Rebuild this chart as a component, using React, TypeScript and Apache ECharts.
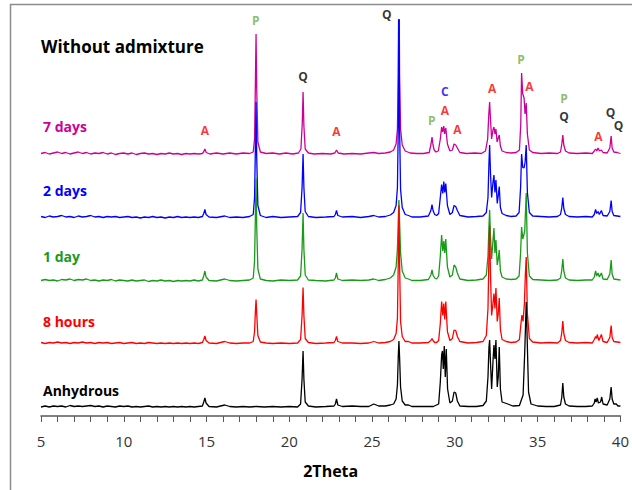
import React, { useEffect, useRef } from "react";
import * as echarts from "echarts";

// Series (top to bottom in the stack)
const seriesNames = ["7 days", "2 days", "1 day", "8 hours", "Anhydrous"];
const seriesColors = ["#cc0099", "#0000ff", "#1a9a1a", "#ff0000", "#000000"];
const baselineOffsets = [262, 198.5, 135, 72.5, 9];

// Intensities (arbitrary units, above each trace's own baseline), [2Theta, I]
const days7: number[][] = [
  [5, 0.5], [5.25, 1.5], [5.5, 0], [5.75, 1], [6, 2], [6.25, 0.5], [6.5, 1.5], [6.75, 0], [7, 1], [7.25, 2],
  [7.5, 0.5], [7.75, 1.5], [8, 0], [8.25, 1], [8.5, 0.5], [8.75, 1.5], [9, 0], [9.25, 1], [9.5, -0.5], [9.75, 0.5],
  [10, 1], [10.25, 0], [10.5, 1], [10.75, -0.5], [11, 0.5], [11.25, 1], [11.5, 0], [11.75, 0.5], [12, -0.5], [12.25, 0.5],
  [12.5, 0], [12.75, 1], [13, 0], [13.25, 0.5], [13.5, -0.5], [13.75, 0.5], [14, 0], [14.25, 0.5], [14.5, 0], [14.75, 0.5],
  [14.82, 2], [14.9, 5], [14.98, 1.5], [15.2, 0], [15.6, 1], [16, 0], [16.4, 1], [16.8, 0], [17.2, 1], [17.6, 0.5],
  [17.82, 2], [17.9, 15], [17.95, 70], [17.99, 120], [18.03, 65], [18.1, 12], [18.25, 2], [18.6, 0.5], [19, 1], [19.4, 0],
  [19.8, 1], [20.2, 0], [20.55, 1], [20.7, 5], [20.78, 30], [20.83, 62], [20.88, 28], [20.96, 5], [21.15, 1], [21.5, 0],
  [22, 0.5], [22.5, 0], [22.75, 1], [22.85, 4], [22.95, 1], [23.3, 0], [23.8, 0.5], [24.3, 0], [24.8, 1], [25.1, 1.5],
  [25.4, 0.5], [25.8, 1], [26.1, 2], [26.3, 4], [26.45, 10], [26.53, 25], [26.58, 80], [26.62, 200], [26.66, 80], [26.72, 25],
  [26.82, 9], [27, 3], [27.3, 1], [27.7, 0.5], [28.1, 0.5], [28.45, 1.5], [28.56, 10], [28.62, 17], [28.68, 9], [28.75, 4],
  [28.85, 2], [29, 3], [29.12, 15], [29.2, 27], [29.26, 22], [29.33, 28], [29.38, 20], [29.45, 26], [29.55, 10], [29.7, 3],
  [29.85, 4], [29.95, 10], [30.05, 9], [30.15, 6], [30.3, 1.5], [30.7, 0.5], [31.2, 1], [31.6, 0.5], [31.85, 3], [31.98, 15],
  [32.05, 40], [32.1, 52], [32.15, 35], [32.22, 15], [32.3, 24], [32.36, 27], [32.42, 20], [32.48, 25], [32.55, 12], [32.62, 16],
  [32.68, 19], [32.75, 8], [32.85, 3], [33.1, 1.5], [33.4, 1], [33.7, 1.5], [33.9, 4], [33.98, 30], [34.03, 81], [34.1, 60],
  [34.18, 56], [34.24, 40], [34.31, 51], [34.38, 20], [34.5, 4], [34.7, 1.5], [35.2, 0.5], [35.7, 1], [36.2, 0.5], [36.38, 2],
  [36.46, 10], [36.52, 19], [36.58, 9], [36.68, 3], [36.9, 1], [37.4, 0.5], [37.9, 1], [38.3, 0.5], [38.42, 3], [38.5, 5],
  [38.57, 3], [38.65, 6], [38.73, 3], [38.85, 4], [38.95, 1.5], [39.2, 1], [39.36, 6], [39.44, 18], [39.5, 6], [39.6, 2],
  [39.8, 1.5], [40, 0.5],
];

const days2: number[][] = [
  [5, 1], [5.25, 0], [5.5, 1.5], [5.75, 0.5], [6, 1], [6.25, 2], [6.5, 0.5], [6.75, 1], [7, 0], [7.25, 1.5],
  [7.5, 0.5], [7.75, 1], [8, 2], [8.25, 0.5], [8.5, 1], [8.75, 0], [9, 1], [9.25, 0.5], [9.5, 1], [9.75, 0],
  [10, 0.5], [10.25, 1], [10.5, 0], [10.75, 0.5], [11, -0.5], [11.25, 0.5], [11.5, 0], [11.75, 1], [12, 0], [12.25, 0.5],
  [12.5, -0.5], [12.75, 0.5], [13, 0], [13.25, 1], [13.5, 0], [13.75, 0.5], [14, 0], [14.25, 0.5], [14.5, 0], [14.75, 1],
  [14.83, 4], [14.9, 8], [14.97, 3], [15.15, 0.5], [15.6, 0], [16.1, 1.5], [16.4, 0], [16.8, 0.5], [17.2, 0], [17.6, 1],
  [17.82, 3], [17.9, 20], [17.95, 70], [17.99, 115.5], [18.03, 60], [18.1, 12], [18.25, 2], [18.6, 0], [19, 1], [19.5, 0],
  [20, 0.5], [20.5, 1], [20.68, 5], [20.77, 30], [20.83, 63.5], [20.88, 30], [20.96, 6], [21.15, 1], [21.6, 0], [22.2, 0.5],
  [22.7, 1], [22.78, 3], [22.85, 7], [22.93, 2], [23.2, 0.5], [23.8, 1], [24.3, 0], [24.8, 1], [25.1, 2], [25.4, 0.5],
  [25.8, 1], [26.1, 2.5], [26.3, 5], [26.45, 12], [26.53, 30], [26.58, 90], [26.62, 250], [26.66, 90], [26.72, 28], [26.82, 10],
  [27, 3], [27.2, 2], [27.4, 0.5], [27.9, 0.5], [28.4, 1.5], [28.55, 7], [28.62, 13], [28.68, 7], [28.78, 3], [28.9, 2],
  [29.02, 4], [29.12, 20], [29.2, 33], [29.27, 24], [29.33, 36], [29.39, 25], [29.45, 34], [29.55, 12], [29.7, 3], [29.85, 5],
  [29.95, 12], [30.05, 11], [30.15, 7], [30.3, 2], [30.8, 0.5], [31.3, 1], [31.7, 1.5], [31.9, 5], [32, 20], [32.06, 55],
  [32.1, 72.5], [32.15, 45], [32.22, 20], [32.3, 35], [32.36, 42.5], [32.42, 25], [32.48, 37.5], [32.56, 14], [32.62, 22], [32.68, 31],
  [32.75, 10], [32.85, 4], [33.1, 2], [33.4, 1], [33.7, 1.5], [33.88, 5], [33.97, 30], [34.03, 63.5], [34.1, 50], [34.18, 49.5],
  [34.24, 55], [34.31, 72.5], [34.38, 25], [34.5, 5], [34.7, 1.5], [35.2, 1], [35.7, 0.5], [36.2, 1], [36.38, 3], [36.46, 10],
  [36.52, 20], [36.58, 9], [36.68, 3], [36.9, 1], [37.4, 0.5], [37.9, 1], [38.3, 0.5], [38.42, 3], [38.5, 8], [38.57, 4],
  [38.65, 6], [38.73, 3], [38.85, 7], [38.95, 2], [39.2, 1.5], [39.36, 6], [39.44, 17], [39.5, 6], [39.6, 2], [39.8, 1.5],
  [40, 1],
];

const day1: number[][] = [
  [5, 0.5], [5.25, 1.5], [5.5, 0.5], [5.75, 1], [6, 0], [6.25, 1.5], [6.5, 1], [6.75, 2], [7, 0.5], [7.25, 1.5],
  [7.5, 1], [7.75, 2], [8, 0.5], [8.25, 1], [8.5, 0], [8.75, 1], [9, 0.5], [9.25, 1.5], [9.5, 0], [9.75, 1],
  [10, 0.5], [10.25, 0], [10.5, 1], [10.75, 0], [11, 0.5], [11.25, 1], [11.5, -0.5], [11.75, 0.5], [12, 0], [12.25, 1],
  [12.5, 0], [12.75, 0.5], [13, -0.5], [13.25, 0.5], [13.5, 0], [13.75, 0.5], [14, 0], [14.25, 1], [14.5, 0], [14.75, 1],
  [14.83, 5], [14.9, 10], [14.97, 4], [15.15, 0.5], [15.6, 0], [16.1, 2], [16.4, 0.5], [16.8, 0], [17.2, 0.5], [17.6, 1],
  [17.82, 3], [17.9, 20], [17.95, 65], [17.99, 102.7], [18.03, 55], [18.1, 12], [18.25, 2], [18.6, 0.5], [19, 0], [19.5, 1],
  [20, 0.5], [20.5, 1], [20.68, 5], [20.77, 32], [20.83, 68], [20.88, 32], [20.96, 6], [21.15, 1], [21.6, 0.5], [22.2, 0],
  [22.7, 1], [22.78, 3], [22.85, 8], [22.93, 2], [23.2, 0.5], [23.8, 1], [24.3, 0.5], [24.8, 1], [25.1, 2], [25.4, 0.5],
  [25.8, 1.5], [26.1, 3], [26.3, 6], [26.45, 14], [26.53, 32], [26.58, 60], [26.62, 81], [26.66, 60], [26.72, 28], [26.82, 10],
  [27, 3], [27.2, 2], [27.4, 0.5], [27.9, 0.5], [28.4, 1.5], [28.55, 6], [28.62, 11], [28.68, 6], [28.78, 3], [28.9, 2],
  [29.02, 5], [29.12, 25], [29.2, 46], [29.27, 30], [29.33, 40], [29.39, 28], [29.45, 42], [29.55, 14], [29.7, 4], [29.85, 6],
  [29.95, 16], [30.05, 14], [30.15, 8], [30.3, 2], [30.8, 0.5], [31.3, 1], [31.7, 2], [31.9, 6], [32, 25], [32.06, 55],
  [32.1, 71], [32.15, 45], [32.22, 22], [32.3, 40], [32.36, 53], [32.42, 28], [32.48, 41], [32.56, 16], [32.62, 22], [32.68, 31],
  [32.75, 10], [32.85, 4], [33.1, 2], [33.4, 1.5], [33.7, 2], [33.88, 5], [33.97, 28], [34.03, 54], [34.1, 42], [34.15, 45],
  [34.22, 50], [34.31, 88], [34.38, 28], [34.5, 5], [34.7, 1.5], [35.2, 1], [35.7, 0.5], [36.2, 1], [36.38, 3], [36.46, 11],
  [36.52, 22], [36.58, 10], [36.68, 3], [36.9, 1], [37.4, 0.5], [37.9, 1], [38.3, 1], [38.42, 4], [38.5, 10], [38.57, 5],
  [38.65, 8], [38.73, 4], [38.85, 8], [38.95, 2], [39.2, 1.5], [39.36, 7], [39.44, 21], [39.5, 7], [39.6, 2], [39.8, 1.5],
  [40, 1],
];

const hours8: number[][] = [
  [5, 1], [5.25, 0], [5.5, 1], [5.75, 0.5], [6, 1.5], [6.25, 0.5], [6.5, 1], [6.75, 0], [7, 1], [7.25, 0.5],
  [7.5, 1.5], [7.75, 0.5], [8, 1], [8.25, 0], [8.5, 1], [8.75, 0.5], [9, 1], [9.25, 0], [9.5, 0.5], [9.75, 1],
  [10, 0], [10.25, 0.5], [10.5, 1], [10.75, 0], [11, 0.5], [11.25, 0], [11.5, 1], [11.75, 0.5], [12, 0], [12.25, 0.5],
  [12.5, 0], [12.75, 0.5], [13, 0], [13.25, 0.5], [13.5, 0], [13.75, 0.5], [14, 0], [14.25, 0.5], [14.5, 0], [14.75, 1],
  [14.83, 4], [14.9, 7.5], [14.97, 3], [15.15, 0.5], [15.6, 0], [16.1, 2], [16.4, 0.5], [16.8, 0], [17.2, 0.5], [17.6, 0.5],
  [17.82, 2], [17.9, 12], [17.95, 32], [17.99, 44], [18.03, 30], [18.1, 8], [18.25, 1.5], [18.6, 0.5], [19, 0], [19.5, 0.5],
  [20, 0], [20.5, 0.5], [20.68, 4], [20.77, 28], [20.83, 56], [20.88, 28], [20.96, 5], [21.15, 1], [21.6, 0], [22.2, 0.5],
  [22.7, 1], [22.78, 3], [22.85, 7], [22.93, 2], [23.2, 0.5], [23.8, 0.5], [24.3, 0], [24.8, 0.5], [25.1, 2], [25.4, 0.5],
  [25.8, 1], [26.1, 2], [26.3, 4], [26.45, 10], [26.53, 25], [26.58, 80], [26.62, 138], [26.66, 80], [26.72, 22], [26.82, 7],
  [27, 2], [27.2, 2], [27.4, 0.5], [27.9, 0.5], [28.4, 1], [28.55, 3], [28.62, 5], [28.68, 3], [28.78, 1], [28.9, 1],
  [29.02, 3], [29.12, 20], [29.2, 42], [29.27, 28], [29.33, 40], [29.39, 24], [29.45, 42], [29.55, 12], [29.7, 3], [29.85, 5],
  [29.95, 13.5], [30.05, 13], [30.15, 7], [30.3, 2], [30.8, 0.5], [31.3, 1], [31.7, 2], [31.9, 8], [32, 35], [32.06, 90],
  [32.1, 118], [32.15, 70], [32.22, 28], [32.3, 40], [32.36, 50], [32.42, 35], [32.48, 55.5], [32.56, 22], [32.62, 30], [32.68, 45.5],
  [32.75, 14], [32.85, 4], [33.1, 2], [33.4, 1], [33.7, 1.5], [33.9, 4], [33.98, 18], [34.05, 28.5], [34.12, 22], [34.2, 40],
  [34.26, 70], [34.31, 86.5], [34.38, 30], [34.5, 5], [34.7, 1.5], [35.2, 0.5], [35.7, 1], [36.2, 0.5], [36.38, 3], [36.46, 11],
  [36.52, 22.5], [36.58, 10], [36.68, 3], [36.9, 1], [37.4, 0.5], [37.9, 1], [38.3, 0.5], [38.42, 4], [38.5, 7], [38.56, 5],
  [38.6, 9], [38.7, 3], [38.85, 9], [38.95, 2], [39.2, 1], [39.36, 6], [39.44, 18], [39.5, 6], [39.6, 2], [39.8, 1.5],
  [40, 1],
];

const anhydrous: number[][] = [
  [5, 0], [5.25, 1], [5.5, 0], [5.75, 1], [6, 0.5], [6.25, 1], [6.5, 0], [6.75, 1.5], [7, 0.5], [7.25, 1],
  [7.5, 0.5], [7.75, 1], [8, 1.5], [8.25, 0.5], [8.5, 1], [8.75, 0], [9, 1], [9.25, 0.5], [9.5, 0], [9.75, 1],
  [10, 0.5], [10.25, 1], [10.5, 0], [10.75, 0.5], [11, 0], [11.25, 0.5], [11.5, 1], [11.75, 0], [12, 0.5], [12.25, 0],
  [12.5, 0.5], [12.75, 0], [13, 0.5], [13.25, 0], [13.5, 0.5], [13.75, 0], [14, 0.5], [14.25, 0], [14.5, 0.5], [14.75, 1],
  [14.83, 5], [14.9, 9], [14.97, 4], [15.15, 0.5], [15.6, 0], [16.1, 2], [16.4, 0.5], [16.8, 0], [17.2, 0.5], [17.6, 0],
  [18, 0.5], [18.5, 0], [19, 0.5], [19.5, 0], [20, 0.5], [20.5, 0], [20.68, 3], [20.77, 28], [20.83, 56], [20.88, 28],
  [20.96, 5], [21.15, 1], [21.6, 0], [22.2, 0.5], [22.7, 1], [22.78, 3], [22.85, 8], [22.93, 2], [23.2, 0.5], [23.8, 1],
  [24.3, 0.5], [24.8, 0.5], [25.1, 3], [25.4, 1], [25.8, 1], [26.1, 2], [26.3, 3], [26.45, 8], [26.53, 22], [26.58, 50],
  [26.62, 66], [26.66, 50], [26.72, 20], [26.82, 6], [27, 2], [27.2, 2], [27.4, 0.5], [27.9, 0.5], [28.4, 0.5], [28.7, 0.5],
  [29.02, 3], [29.12, 25], [29.2, 52], [29.25, 56], [29.3, 38], [29.36, 61], [29.42, 30], [29.48, 58], [29.56, 18], [29.7, 4],
  [29.85, 6], [29.95, 15], [30.05, 14], [30.15, 6], [30.3, 1], [30.8, 0.5], [31.3, 0.5], [31.7, 1.5], [31.9, 6], [32, 30],
  [32.06, 60], [32.1, 67], [32.15, 45], [32.22, 18], [32.3, 45], [32.36, 62], [32.42, 48], [32.48, 67], [32.56, 20], [32.62, 30],
  [32.68, 60], [32.75, 18], [32.85, 5], [33.2, 3], [33.5, 1], [33.9, 1.5], [34.12, 12], [34.22, 55], [34.31, 105], [34.38, 60],
  [34.45, 15], [34.6, 3], [35, 1], [35.5, 0.5], [36, 0.5], [36.38, 2], [36.46, 10], [36.52, 24], [36.58, 10], [36.68, 3],
  [36.9, 1], [37.4, 0.5], [37.9, 0.5], [38.3, 1], [38.42, 4], [38.47, 8], [38.53, 5], [38.6, 9], [38.67, 4], [38.8, 5],
  [38.87, 10], [38.95, 3], [39.2, 2], [39.36, 8], [39.44, 20], [39.5, 8], [39.6, 3], [39.75, 3], [39.85, 1], [40, 1],
];

const traces = [days7, days2, day1, hours8, anhydrous];

// Phase annotations: [2Theta, height, text, color]
const annotations: [number, number, string, string][] = [
  [14.9, 286, "A", "#ff0000"],
  [17.97, 396, "P", "#70ad47"],
  [20.83, 340, "Q", "#000000"],
  [22.85, 285, "A", "#ff0000"],
  [25.88, 402, "Q", "#000000"],
  [28.6, 296, "P", "#70ad47"],
  [29.4, 325, "C", "#0000ff"],
  [29.4, 306, "A", "#ff0000"],
  [30.15, 287, "A", "#ff0000"],
  [32.25, 328, "A", "#ff0000"],
  [34.0, 357, "P", "#70ad47"],
  [34.5, 330, "A", "#ff0000"],
  [36.6, 318, "P", "#70ad47"],
  [36.6, 300, "Q", "#000000"],
  [38.67, 280, "A", "#ff0000"],
  [39.4, 304, "Q", "#000000"],
  [39.88, 291, "Q", "#000000"],
];

const labelYs = [126, 190, 256, 321, 390];

export default function App() {
  const ref = useRef<HTMLDivElement>(null);
  useEffect(() => {
    if (!ref.current) return;
    const chart = echarts.init(ref.current, undefined, { renderer: "svg" });
    const font = "'Open Sans', 'Liberation Sans', sans-serif";
    const lineSeries = traces.map((t, i) => ({
      type: "line",
      name: seriesNames[i],
      data: t.map(([x, v]) => [x, v + baselineOffsets[i]]),
      symbol: "none",
      lineStyle: { color: seriesColors[i], width: 1.3 },
      itemStyle: { color: seriesColors[i] },
      clip: true,
      silent: true,
    }));
    const annSeries = {
      type: "scatter",
      symbolSize: 0.1,
      clip: false,
      silent: true,
      itemStyle: { color: "rgba(0,0,0,0)" },
      label: {
        show: true,
        position: "inside",
        formatter: "{b}",
        fontFamily: font,
        fontWeight: "bold",
        fontSize: 12,
        lineHeight: 12,
      },
      data: annotations.map(([x, y, t, c]) => ({
        value: [x, y],
        name: t,
        label: { color: c },
      })),
      z: 10,
    };
    chart.setOption({
      animation: false,
      backgroundColor: "#ffffff",
      grid: { left: 41, right: 11, top: 20, bottom: 74 },
      xAxis: {
        type: "value",
        min: 5,
        max: 40,
        interval: 1,
        name: "2Theta",
        nameLocation: "middle",
        nameGap: 47,
        nameTextStyle: { fontFamily: font, fontWeight: "bold", fontSize: 16, color: "#000" },
        axisLine: { lineStyle: { color: "#595959", width: 1.5 } },
        axisTick: { show: true, length: 6, lineStyle: { color: "#595959", width: 1 } },
        axisLabel: {
          formatter: (v: number) => (v % 5 === 0 ? String(v) : ""),
          fontFamily: font,
          fontSize: 15,
          color: "#333",
          margin: 17,
          showMinLabel: true,
          showMaxLabel: true,
        },
        splitLine: { show: false },
      },
      yAxis: { type: "value", min: 0, max: 396, show: false },
      graphic: [
        {
          type: "rect",
          shape: { x: 10.5, y: 4.5, width: 700, height: 600 },
          style: { fill: "none", stroke: "#8c8c8c", lineWidth: 1.5 },
          silent: true,
        },
        {
          type: "text",
          x: 41,
          y: 46,
          style: {
            text: "Without admixture",
            fill: "#000",
            font: `bold 17px ${font}`,
            textVerticalAlign: "middle",
          },
        },
        ...seriesNames.map((n, i) => ({
          type: "text",
          x: 43,
          y: labelYs[i],
          style: {
            text: n,
            fill: seriesColors[i],
            font: `bold 14px ${font}`,
            textVerticalAlign: "middle",
          },
        })),
      ],
      series: [...lineSeries, annSeries],
    });
    return () => chart.dispose();
  }, []);
  return (
    <div
      ref={ref}
      style={{ position: "absolute", left: 0, top: 0, width: 632, height: 490, background: "#fff" }}
    />
  );
}
